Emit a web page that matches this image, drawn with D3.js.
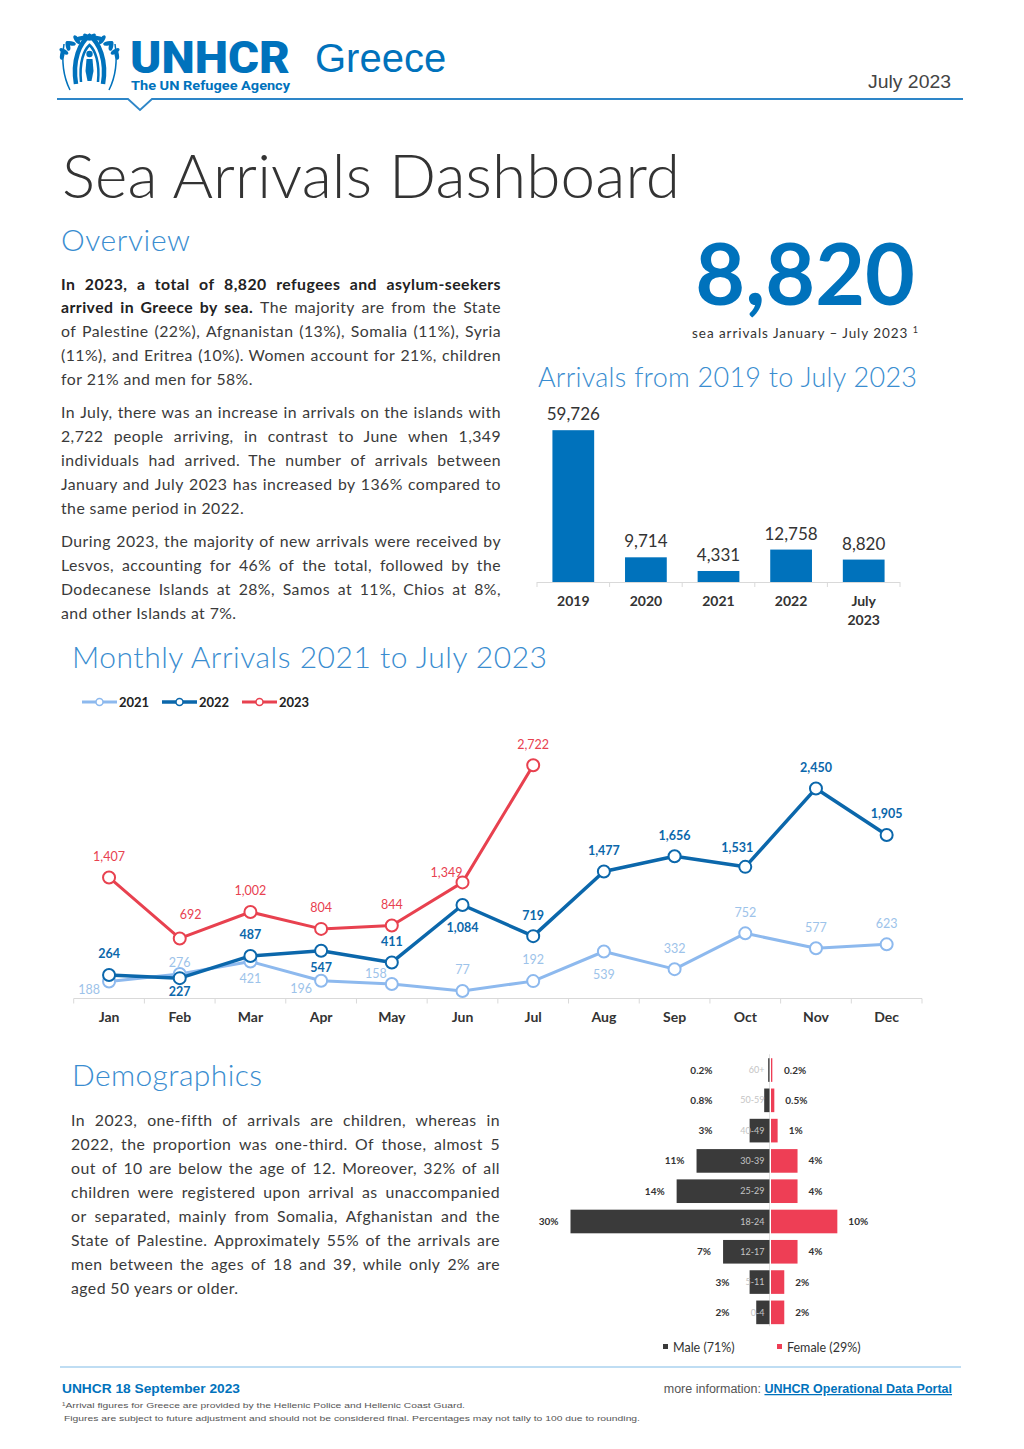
<!DOCTYPE html>
<html>
<head>
<meta charset="utf-8">
<script src="https://cdn.jsdelivr.net/npm/d3@7"></script>
<style>
  html, body { margin: 0; padding: 0; background: #fff; }
  svg { display: block; font-family: Lato, "Open Sans", sans-serif; }
</style>
</head>
<body>
<div id="page"></div>
<script>
// ---- data ----
const months = ["Jan","Feb","Mar","Apr","May","Jun","Jul","Aug","Sep","Oct","Nov","Dec"];
const arrivals2021 = [188, 276, 421, 196, 158, 77, 192, 539, 332, 752, 577, 623];
const arrivals2022 = [264, 227, 487, 547, 411, 1084, 719, 1477, 1656, 1531, 2450, 1905];
const arrivals2023 = [1407, 692, 1002, 804, 844, 1349, 2722];

const years = ["2019", "2020", "2021", "2022", "July 2023"];
const yearTotals = [59726, 9714, 4331, 12758, 8820];

const ageGroups = ["60+", "50-59", "40-49", "30-39", "25-29", "18-24", "12-17", "5-11", "0-4"];
const malePct = [0.2, 0.8, 3, 11, 14, 30, 7, 3, 2];
const femalePct = [0.2, 0.5, 1, 4, 4, 10, 4, 2, 2];

// where each monthly label sits relative to its point
const labelPos2021 = ["l","as","b","l","al","a","a","bb","a","a","a","a"];
const labelPos2022 = ["a","bs","a","b","a","bb","a","a","a","aL","a","a"];
const labelPos2023 = ["a","ar","a","a","a","al","a"];
const offsets = { a:[0,-21], as:[0,-11], b:[0,17], bs:[0,13], bb:[0,23], l:[-20,8], al:[-16,-10], aL:[-8,-19], ar:[11,-24] };

const blue = "#0072BC", headBlue = "#3A8DD0", textCol = "#3a3a3a";
const c2021 = "#8DB9EE", c2022 = "#0B67AB", c2023 = "#E8414F";

const W = 1024, H = 1449;
const svg = d3.select("#page").append("svg").attr("width", W).attr("height", H);

// ---- header ----
const logo = svg.append("g");
// laurel leaves round the emblem
[-1, 1].forEach(side => {
  for (let i = 0; i < 7; i++) {
    const a = (200 + i * 22) * Math.PI / 180;
    const cx = 89.5 + side * Math.cos(a) * -29, cy = 64 - Math.sin(a) * -27;
    logo.append("ellipse").attr("cx", cx).attr("cy", cy).attr("rx", 2.2).attr("ry", 5)
      .attr("transform", `rotate(${side * (i * 22 - 10)},${cx},${cy})`).attr("fill", blue);
  }
});
logo.append("path").attr("d", "M70,90 Q60,70 64,44").attr("stroke", blue).attr("stroke-width", 1.5).attr("fill", "none");
logo.append("path").attr("d", "M109,90 Q119,70 115,44").attr("stroke", blue).attr("stroke-width", 1.5).attr("fill", "none");
logo.append("path").attr("d", "M76,84 C72,60 80,42 89.5,36 C99,42 107,60 103,84").attr("stroke", blue).attr("stroke-width", 4.5).attr("fill", "none");
logo.append("path").attr("d", "M81,82 C79,62 84,50 89.5,45 C95,50 100,62 98,82").attr("stroke", blue).attr("stroke-width", 2.5).attr("fill", "none");
logo.append("circle").attr("cx", 89.5).attr("cy", 54).attr("r", 3.2).attr("fill", blue);
logo.append("path").attr("d", "M86.5,59 h6 l1,12 l-2,10 h-4 l-2,-10 z").attr("fill", blue);

svg.append("text").attr("x", 130).attr("y", 73).attr("font-family", "Roboto").attr("font-weight", 900)
  .attr("font-size", 44).attr("fill", blue).attr("textLength", 160).attr("lengthAdjust", "spacingAndGlyphs").text("UNHCR");
svg.append("text").attr("x", 131).attr("y", 90).attr("font-family", "Roboto").attr("font-weight", 700)
  .attr("font-size", 12.5).attr("fill", blue).attr("textLength", 159).attr("lengthAdjust", "spacingAndGlyphs").text("The UN Refugee Agency");
svg.append("text").attr("x", 315).attr("y", 72).attr("font-family", "Liberation Sans")
  .attr("font-size", 40).attr("fill", blue).text("Greece");
svg.append("text").attr("x", 868).attr("y", 88).attr("font-family", "Liberation Sans")
  .attr("font-size", 18).attr("fill", "#444").attr("textLength", 83).attr("lengthAdjust", "spacingAndGlyphs").text("July 2023");
svg.append("path").attr("d", "M57,99 H128 L140,110 L152,99 H963").attr("fill", "none")
  .attr("stroke", "#2E86C8").attr("stroke-width", 1.8);

svg.append("text").attr("x", 62).attr("y", 198).attr("font-size", 62).attr("font-weight", 300)
  .attr("fill", "#333").attr("textLength", 618).attr("lengthAdjust", "spacing").text("Sea Arrivals Dashboard");

function heading(txt, x, y, size, len) {
  svg.append("text").attr("x", x).attr("y", y).attr("font-size", size).attr("font-weight", 300)
    .attr("fill", headBlue).attr("textLength", len).attr("lengthAdjust", "spacing").text(txt);
}
heading("Overview", 61, 251, 30, 129);
heading("Arrivals from 2019 to July 2023", 538, 387, 27, 379);
heading("Monthly Arrivals 2021 to July 2023", 72, 668, 30, 475);
heading("Demographics", 72, 1086, 30, 190);

// ---- justified paragraphs ----
function paragraph(lines, x, y0, width, lh, size) {
  lines.forEach((ln, i) => {
    const segs = typeof ln === "string" ? [[ln, 400]] : ln;
    const justify = i < lines.length - 1;
    const t = svg.append("text").attr("y", y0 + i * lh).attr("font-size", size)
      .attr("letter-spacing", 0.45).attr("fill", textCol);
    const words = [];
    segs.forEach(([s, w]) => s.split(" ").filter(Boolean).forEach(wd => words.push([wd, w])));
    const spans = words.map(([wd, w]) => t.append("tspan").attr("font-weight", w).attr("fill", w > 400 ? "#222" : textCol).text(wd));
    const ws = spans.map(s => s.node().getComputedTextLength());
    const gap = justify ? (width - d3.sum(ws)) / (words.length - 1) : size * 0.28;
    let cx = x;
    spans.forEach((s, j) => { s.attr("x", cx); cx += ws[j] + gap; });
  });
}

paragraph([
  [["In 2023, a total of 8,820 refugees and asylum-seekers", 700]],
  [["arrived in Greece by sea.", 700], ["The majority are from the State", 400]],
  "of Palestine (22%), Afgnanistan (13%), Somalia (11%), Syria",
  "(11%), and Eritrea (10%). Women account for 21%, children",
  "for 21% and men for 58%."
], 61, 289.5, 440, 23.9, 15.8);
paragraph([
  "In July, there was an increase in arrivals on the islands with",
  "2,722 people arriving, in contrast to June when 1,349",
  "individuals had arrived. The number of arrivals between",
  "January and July 2023 has increased by 136% compared to",
  "the same period in 2022."
], 61, 418, 440, 23.9, 15.8);
paragraph([
  "During 2023, the majority of new arrivals were received by",
  "Lesvos, accounting for 46% of the total, followed by the",
  "Dodecanese Islands at 28%, Samos at 11%, Chios at 8%,",
  "and other Islands at 7%."
], 61, 547, 440, 23.9, 15.8);
paragraph([
  "In 2023, one-fifth of arrivals are children, whereas in",
  "2022, the proportion was one-third. Of those, almost 5",
  "out of 10 are below the age of 12. Moreover, 32% of all",
  "children were registered upon arrival as unaccompanied",
  "or separated, mainly from Somalia, Afghanistan and the",
  "State of Palestine. Approximately 55% of the arrivals are",
  "men between the ages of 18 and 39, while only 2% are",
  "aged 50 years or older."
], 71, 1126, 429, 24, 15.8);

// ---- big number ----
svg.append("text").attr("x", 915).attr("y", 305).attr("text-anchor", "end").attr("font-size", 86)
  .attr("font-weight", 700).attr("fill", blue).text(d3.format(",")(d3.sum(arrivals2023)));
const sub = svg.append("text").attr("x", 918).attr("y", 338).attr("text-anchor", "end").attr("font-size", 13.5)
  .attr("fill", "#333").attr("textLength", 226).attr("lengthAdjust", "spacing");
sub.append("tspan").text("sea arrivals January \u2013 July 2023 ");
sub.append("tspan").attr("font-size", 9).attr("dy", -5).text("1");

// ---- yearly bars ----
const xb = d3.scaleBand().domain(years).range([537, 900]).paddingInner(0.425).paddingOuter(0.2125);
const yb = d3.scaleLinear().domain([0, 60000]).range([582, 429.5]);
const gb = svg.append("g");
gb.selectAll("rect").data(years).join("rect")
  .attr("x", d => xb(d)).attr("width", xb.bandwidth())
  .attr("y", (d, i) => yb(yearTotals[i])).attr("height", (d, i) => yb(0) - yb(yearTotals[i]))
  .attr("fill", blue);
gb.selectAll(".val").data(years).join("text")
  .attr("x", d => xb(d) + xb.bandwidth() / 2).attr("y", (d, i) => yb(yearTotals[i]) - 10)
  .attr("text-anchor", "middle").attr("font-size", 17).attr("fill", "#333")
  .text((d, i) => d3.format(",")(yearTotals[i]));
gb.append("line").attr("x1", 537).attr("x2", 900).attr("y1", yb(0) + 0.5).attr("y2", yb(0) + 0.5).attr("stroke", "#d9d9d9");
gb.selectAll(".tk").data(d3.range(years.length + 1)).join("line")
  .attr("x1", i => 537 + i * xb.step()).attr("x2", i => 537 + i * xb.step())
  .attr("y1", yb(0)).attr("y2", yb(0) + 5).attr("stroke", "#d9d9d9");
gb.selectAll(".cat").data(years).join("text")
  .attr("x", d => xb(d) + xb.bandwidth() / 2).attr("y", 606)
  .attr("text-anchor", "middle").attr("font-size", 14).attr("font-weight", 700).attr("fill", "#333")
  .each(function(d) {
    const parts = d.split(" ");
    parts.forEach((p, k) => d3.select(this).append("tspan")
      .attr("x", xb(d) + xb.bandwidth() / 2).attr("dy", k ? 19 : 0).text(p));
  });

// ---- monthly lines ----
const xm = d3.scaleBand().domain(months).range([73.7, 922]);
const ym = d3.scaleLinear().domain([0, 3000]).range([997.5, 741.5]);
const gm = svg.append("g");
gm.append("line").attr("x1", 73.7).attr("x2", 922).attr("y1", 998.5).attr("y2", 998.5).attr("stroke", "#d9d9d9");
gm.selectAll(".tk").data(d3.range(months.length + 1)).join("line")
  .attr("x1", i => 73.7 + i * xm.step()).attr("x2", i => 73.7 + i * xm.step())
  .attr("y1", 998.5).attr("y2", 1003.5).attr("stroke", "#d9d9d9");
gm.selectAll(".mon").data(months).join("text")
  .attr("x", d => xm(d) + xm.bandwidth() / 2).attr("y", 1022)
  .attr("text-anchor", "middle").attr("font-size", 14).attr("font-weight", 700).attr("fill", "#333").text(d => d);

const series = [
  { name: "2021", vals: arrivals2021, pos: labelPos2021, col: c2021, lw: 3, lab: "#9DC3EA", fw: 400 },
  { name: "2022", vals: arrivals2022, pos: labelPos2022, col: c2022, lw: 3.5, lab: "#0B67AB", fw: 700 },
  { name: "2023", vals: arrivals2023, pos: labelPos2023, col: c2023, lw: 3, lab: "#E8414F", fw: 400 }
];
const line = d3.line().x((d, i) => xm(months[i]) + xm.bandwidth() / 2).y(d => ym(d));
series.forEach(s => {
  const g = gm.append("g");
  g.append("path").datum(s.vals).attr("d", line).attr("fill", "none").attr("stroke", s.col)
    .attr("stroke-width", s.lw).attr("stroke-linejoin", "round");
  g.selectAll("circle").data(s.vals).join("circle")
    .attr("cx", (d, i) => xm(months[i]) + xm.bandwidth() / 2).attr("cy", d => ym(d))
    .attr("r", 6).attr("fill", "#fff").attr("stroke", s.col).attr("stroke-width", 2);
  s.g = g;
});
series.forEach(s => {
  s.g.selectAll(".lab").data(s.vals).join("text")
    .attr("x", (d, i) => xm(months[i]) + xm.bandwidth() / 2 + offsets[s.pos[i]][0])
    .attr("y", (d, i) => ym(d) + offsets[s.pos[i]][1]).attr("dy", "0.35em")
    .attr("text-anchor", "middle").attr("font-size", 12.5).attr("font-weight", s.fw).attr("fill", s.lab)
    .text(d => d3.format(",")(d));
});
// legend
const lg = svg.append("g");
series.forEach((s, i) => {
  const x0 = 82 + i * 80;
  lg.append("line").attr("x1", x0).attr("x2", x0 + 35).attr("y1", 702).attr("y2", 702)
    .attr("stroke", s.col).attr("stroke-width", s.lw);
  lg.append("circle").attr("cx", x0 + 17.5).attr("cy", 702).attr("r", 3.5).attr("fill", "#fff")
    .attr("stroke", s.col).attr("stroke-width", 1.5);
  lg.append("text").attr("x", x0 + 37).attr("y", 706.5).attr("font-size", 13).attr("font-weight", 700)
    .attr("fill", "#222").text(s.name);
});

// ---- age pyramid ----
const axisX = 769.5;
const yp = d3.scaleBand().domain(ageGroups).range([1054.9, 1327.5]).paddingInner(0.22).paddingOuter(0.11);
const xp = d3.scaleLinear().domain([0, 30]).range([0, 199]);
const gp = svg.append("g");
gp.append("line").attr("x1", axisX).attr("x2", axisX).attr("y1", yp(ageGroups[0]) - 4)
  .attr("y2", yp(ageGroups[ageGroups.length - 1]) + yp.bandwidth() + 2).attr("stroke", "#e3e3e3");
gp.selectAll(".m").data(ageGroups).join("rect")
  .attr("x", (d, i) => axisX - xp(malePct[i])).attr("width", (d, i) => xp(malePct[i]))
  .attr("y", d => yp(d)).attr("height", yp.bandwidth()).attr("fill", "#3a3a3a");
gp.selectAll(".f").data(ageGroups).join("rect")
  .attr("x", axisX + 1.5).attr("width", (d, i) => xp(femalePct[i]))
  .attr("y", d => yp(d)).attr("height", yp.bandwidth()).attr("fill", "#EE3E55");
gp.selectAll(".ml").data(ageGroups).join("text")
  .attr("x", (d, i) => Math.min(axisX - xp(malePct[i]) - 12, axisX - (i > 6 ? 40 : 57)))
  .attr("y", d => yp(d) + yp.bandwidth() / 2).attr("dy", "0.35em").attr("text-anchor", "end")
  .attr("font-size", 10).attr("font-weight", 700).attr("fill", "#333").text((d, i) => malePct[i] + "%");
gp.selectAll(".fl").data(ageGroups).join("text")
  .attr("x", (d, i) => axisX + 1.5 + Math.max(xp(femalePct[i]), 2) + 11)
  .attr("y", d => yp(d) + yp.bandwidth() / 2).attr("dy", "0.35em")
  .attr("font-size", 10).attr("font-weight", 700).attr("fill", "#333").text((d, i) => femalePct[i] + "%");
gp.selectAll(".age").data(ageGroups).join("text")
  .attr("x", axisX - 5).attr("y", d => yp(d) + yp.bandwidth() / 2).attr("dy", "0.35em").attr("text-anchor", "end")
  .attr("font-size", 9).attr("fill", "#c4c4c4").text(d => d);
const pl = svg.append("g");
[["Male (71%)", "#3a3a3a", 663], ["Female (29%)", "#EE3E55", 777]].forEach(([t, c, x]) => {
  pl.append("rect").attr("x", x).attr("y", 1344).attr("width", 5).attr("height", 5).attr("fill", c);
  pl.append("text").attr("x", x + 10).attr("y", 1351.5).attr("font-size", 12.5).attr("fill", "#333").text(t);
});

// ---- footer ----
svg.append("line").attr("x1", 60).attr("x2", 961).attr("y1", 1367).attr("y2", 1367)
  .attr("stroke", "#BFDDF3").attr("stroke-width", 2);
svg.append("text").attr("x", 62).attr("y", 1393).attr("font-family", "Liberation Sans").attr("font-weight", 700)
  .attr("font-size", 12.5).attr("fill", blue).attr("textLength", 178).attr("lengthAdjust", "spacingAndGlyphs")
  .text("UNHCR 18 September 2023");
const more = svg.append("text").attr("x", 952).attr("y", 1393).attr("text-anchor", "end")
  .attr("font-family", "Liberation Sans").attr("font-size", 12.5).attr("fill", "#555");
more.append("tspan").text("more information: ");
more.append("tspan").attr("fill", blue).attr("text-decoration", "underline").attr("font-weight", 700).text("UNHCR Operational Data Portal");
svg.append("text").attr("x", 62).attr("y", 1408).attr("font-family", "Liberation Sans").attr("font-size", 8)
  .attr("fill", "#555").attr("textLength", 403).attr("lengthAdjust", "spacingAndGlyphs")
  .text("\u00b9Arrival figures for Greece are provided by the Hellenic Police and Hellenic Coast Guard.");
svg.append("text").attr("x", 64).attr("y", 1421).attr("font-family", "Liberation Sans").attr("font-size", 8)
  .attr("fill", "#555").attr("textLength", 576).attr("lengthAdjust", "spacingAndGlyphs")
  .text("Figures are subject to future adjustment and should not be considered final. Percentages may not tally to 100 due to rounding.");
</script>
</body>
</html>
